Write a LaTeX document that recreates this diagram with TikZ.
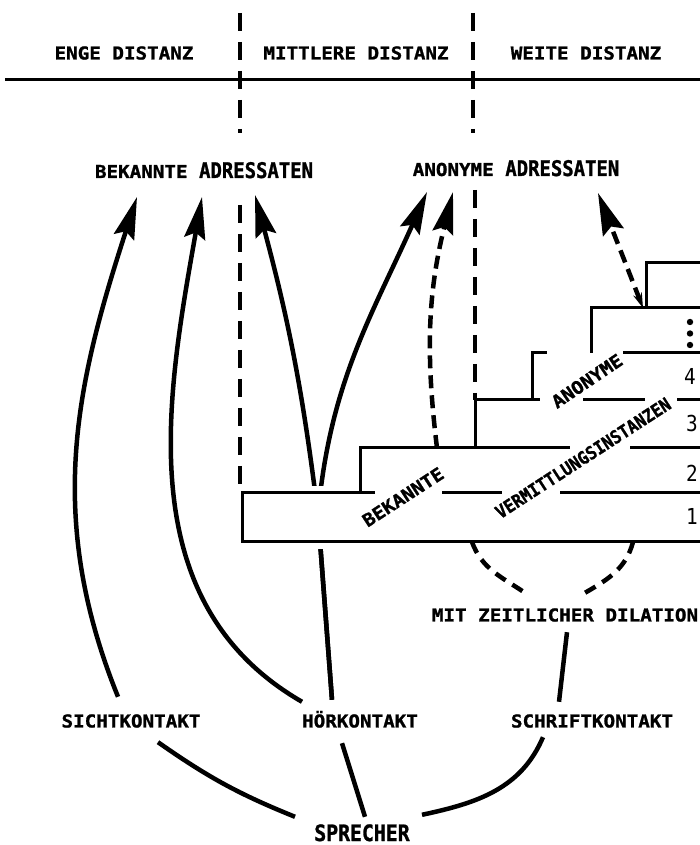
\documentclass[tikz,border=0pt]{standalone}
\usepackage{fontspec}
\usetikzlibrary{arrows.meta}

\newfontfamily\labfont{DejaVu Sans Mono}[FakeStretch=1.08,FakeBold=1.2]
\newfontfamily\tallfont{DejaVu Sans Mono}[FakeStretch=0.88,FakeBold=1.2]
\newfontfamily\narrowfont{DejaVu Sans Mono}[FakeStretch=0.9,FakeBold=1.2]
\newfontfamily\numfont{DejaVu Sans Mono}[FakeStretch=0.88]

\newcommand{\adr}{{\tallfont\bfseries\fontsize{21.5}{22}\selectfont ADRESSATEN}}

\tikzset{
  lbl/.style={font=\labfont\bfseries\fontsize{17.8}{20}\selectfont, inner sep=0pt, text height=13pt, text depth=0pt},
  adrlbl/.style={lbl, text height=16pt},
  nr/.style={font=\numfont\fontsize{22}{22}\selectfont, inner sep=0pt},
  arr/.style={line width=4.5pt, -{Stealth[length=42pt,width=21pt,inset=6pt]}},
  darr/.style={arr, dash pattern=on 13pt off 7pt},
  con/.style={line width=4.5pt},
  trenn/.style={line width=3.5pt, dash pattern=on 18pt off 11pt},
  stufe/.style={line width=3pt}
}

\begin{document}
\begin{tikzpicture}[x=1pt,y=1pt]
  \useasboundingbox (0,0) rectangle (699,845);
  \fill[white] (0,0) rectangle (699,845);

  % Kopfzeile
  \draw[line width=3pt] (5,765) -- (712,765);
  \node[lbl] (enge) at (124,792) {ENGE DISTANZ};
  \node[lbl] (mittlere) at (356,792) {MITTLERE DISTANZ};
  \node[lbl] (weite) at (586,792) {WEITE DISTANZ};
  \draw[trenn] (240,832) -- (240,712);
  \draw[trenn] (473,832) -- (473,712);

  % Adressaten
  \node[adrlbl] (bekAdr) at (204,675) {BEKANNTE \adr};
  \node[adrlbl] (anoAdr) at (516,677) {ANONYME \adr};
  \draw[trenn] (240,640) -- (240,358);
  \draw[trenn] (475,655) -- (475,445);

  % Kontakte
  \node[lbl] (sicht) at (131,124) {SICHTKONTAKT};
  \node[lbl] (hoer) at (360,124) {HÖRKONTAKT};
  \node[lbl] (schrift) at (592,124) {SCHRIFTKONTAKT};
  \node[lbl] (dilation) at (565,230) {MIT ZEITLICHER DILATION};
  \node[lbl, font=\tallfont\bfseries\fontsize{22.5}{23}\selectfont, text height=17pt] (sprecher) at (362,12.5) {SPRECHER};

  % Pfeilspitzen
  \coordinate (tA) at (137,648);
  \coordinate (tB) at (202,648);
  \coordinate (tC) at (255,650);
  \coordinate (tD) at (427,653);
  \coordinate (tE) at (453,653);
  \coordinate (tF) at (598,652);
  \coordinate (hm) at (318,330);

  \draw[arr] ([shift={(-13,17.5)}]sicht.north) to[out=112,in=-108] (tA);
  \draw[arr] ([shift={(-58,12.5)}]hoer.north) to[out=150,in=-100] (tB);
  \draw[arr] ([shift={(-28,14.5)}]hoer.north) -- (hm) to[out=97,in=-75] (tC);
  \draw[arr] ([shift={(-28,14.5)}]hoer.north) -- (hm) to[out=85,in=-114] (tD);

  % Stufen
  \fill[white] (236,296) rectangle (712,359);
  \draw[stufe] (712,303) -- (242,303) -- (242,352) -- (375,352);
  \draw[stufe] (442,352) -- (502,352);
  \draw[stufe] (560,352) -- (712,352);
  \draw[stufe] (360,352) -- (360,397) -- (570,397);
  \draw[stufe] (630,397) -- (712,397);
  \draw[stufe] (475,397) -- (475,445) -- (540,445);
  \draw[stufe] (583,445) -- (645,445);
  \draw[stufe] (677,445) -- (712,445);
  \draw[stufe] (532,445) -- (532,492) -- (547,492);
  \draw[stufe] (623,492) -- (712,492);
  \draw[stufe] (591,492) -- (591,537) -- (712,537);
  \draw[stufe] (646,537) -- (646,582) -- (712,582);

  \node[lbl, rotate=33] (bek) at (403,348) {BEKANNTE};
  \node[lbl, rotate=33, font=\narrowfont\bfseries\fontsize{18}{20}\selectfont] (verm) at (583,387) {VERMITTLUNGSINSTANZEN};
  \node[lbl, rotate=34] (anon) at (587,464) {ANONYME};

  \node[nr] (n1) at (692,328.5) {1};
  \node[nr] (n2) at (692,371.5) {2};
  \node[nr] (n3) at (692,421.5) {3};
  \node[nr] (n4) at (690,468.5) {4};
  \foreach \y in {500,511.5,523} \fill (690,\y) circle (3.2);

  % gestrichelte Pfeile
  \coordinate (e0) at (437,397);
  \coordinate (f0) at (643,537);
  \draw[darr] (e0) to[out=97,in=-104] (tE);
  \draw[darr, {Stealth[length=15pt,width=9pt]}-{Stealth[length=42pt,width=22pt,inset=6pt]}] (f0) -- (tF);

  % zeitliche Dilation
  \coordinate (d1) at (472,303);
  \coordinate (d2) at (633,303);
  \draw[con, dash pattern=on 12pt off 8pt] (d1) to[out=-70,in=146] ([shift={(-40,15.5)}]dilation.north);
  \draw[con, dash pattern=on 12pt off 8pt] (d2) to[out=-105,in=30] ([shift={(20,15.5)}]dilation.north);
  \draw[con] ([shift={(-33,12.5)}]schrift.north) -- ([shift={(2,-10.5)}]dilation.south);

  % Sprecher
  \draw[con] ([shift={(27,-14.5)}]sicht.south) to[out=-35,in=158] ([shift={(-67,7)}]sprecher.north);
  \draw[con] ([shift={(-18,-15.5)}]hoer.south) -- ([shift={(3,7)}]sprecher.north);
  \draw[con] ([shift={(-49,-9.5)}]schrift.south) to[out=-113,in=12] ([shift={(60,9)}]sprecher.north);
\end{tikzpicture}
\end{document}
